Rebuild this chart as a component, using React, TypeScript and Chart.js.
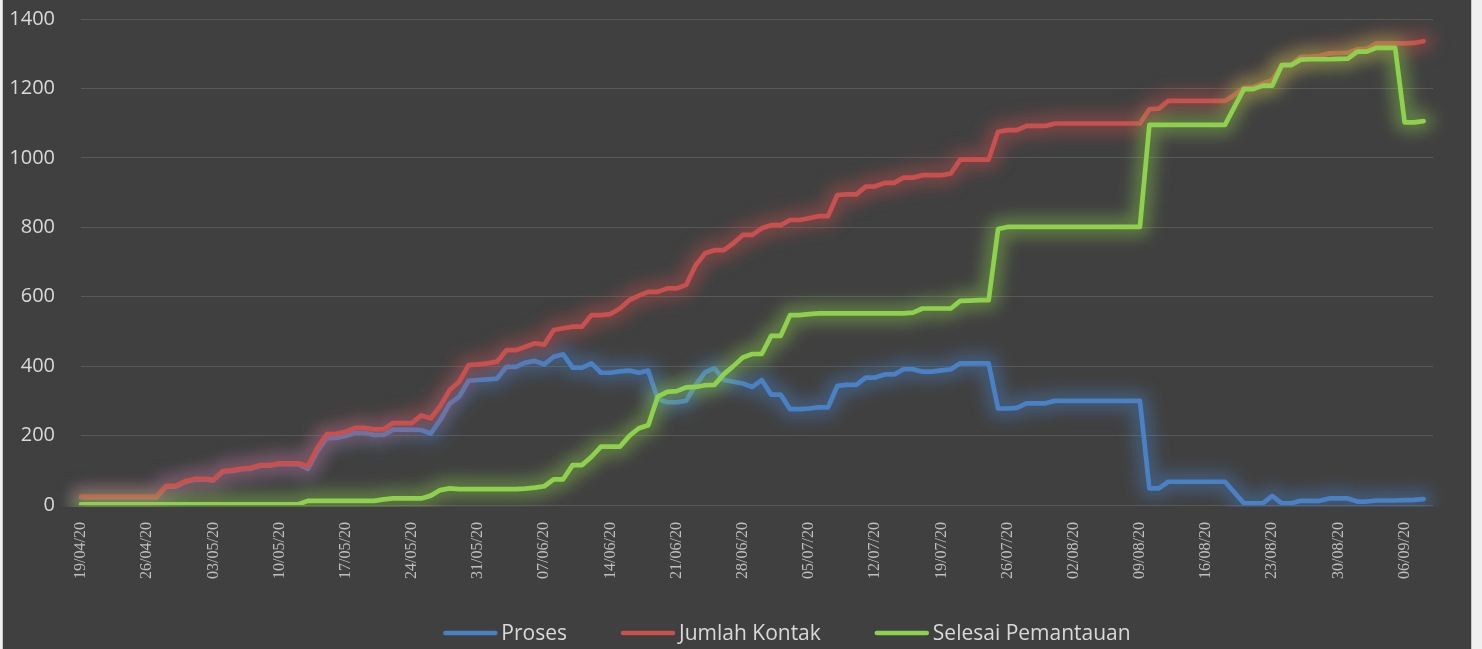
import React, { useEffect, useRef } from 'react';
import { Chart, registerables } from 'chart.js';

Chart.register(...registerables);

// ---- Data ----
const START_DAY = { y: 2020, m: 4, d: 19 }; // 19/04/20
const AXIS_DAYS = 144; // 19/04/20 .. 09/09/20
const TICK_EVERY = 7;

const dateLabels: string[] = (() => {
  const out: string[] = [];
  const base = Date.UTC(START_DAY.y, START_DAY.m - 1, START_DAY.d);
  for (let i = 0; i < AXIS_DAYS; i++) {
    const dt = new Date(base + i * 86400000);
    const dd = String(dt.getUTCDate()).padStart(2, '0');
    const mm = String(dt.getUTCMonth() + 1).padStart(2, '0');
    const yy = String(dt.getUTCFullYear()).slice(2);
    out.push(`${dd}/${mm}/${yy}`);
  }
  return out;
})();

const seriesNames = ['Proses', 'Jumlah Kontak', 'Selesai Pemantauan'];

const proses = [
  22, 22, 22, 22, 22, 22, 22, 22, 22,
  53, 53, 66, 73, 73, 71, 96, 98, 103, 105, 113, 113, 118, 118, 118, 104, 155, 192, 193, 199,
  208, 208, 202, 202, 217, 217, 217, 216, 206, 245, 292, 312, 358, 360, 362, 364, 398, 398,
  410, 415, 405, 427, 434, 396, 396, 408, 381, 381, 385, 387, 381, 387, 305, 296, 296, 300,
  345, 382, 394, 360, 355, 350, 340, 360, 318, 318, 276, 276, 278, 281, 281, 343, 346, 346,
  367, 367, 376, 376, 391, 391, 384, 384, 388, 391, 408, 408, 408, 408, 278, 278, 280, 293,
  293, 293,
  300, 300, 300, 300, 300, 300, 300, 300, 300, 300,
  48, 48,
  67, 67, 67, 67, 67, 67, 67,
  36, 5, 5, 5, 26, 5, 5, 12, 12, 12, 19, 19, 19, 10, 10, 13, 13, 13, 14, 15, 17,
];

const jumlahKontak = [
  24, 24, 24, 24, 24, 24, 24, 24, 24,
  55, 55, 68, 75, 75, 73, 98, 100, 105, 107, 115, 115, 120, 120, 120, 112, 165, 204, 205, 211,
  222, 222, 218, 218, 236, 236, 236, 258, 250, 285, 331, 355, 403, 405, 408, 413, 446, 446,
  456, 466, 462, 504, 509, 514, 514, 547, 547, 550, 566, 590, 603, 614, 614, 624, 624, 634,
  690, 725, 734, 734, 754, 778, 778, 797, 806, 806, 821, 821, 826, 832, 832, 893, 895, 895,
  917, 918, 928, 928, 943, 943, 950, 950, 950, 955, 995, 995, 995, 995, 1075, 1080, 1080, 1092,
  1092, 1092,
  1099, 1099, 1099, 1099, 1099, 1099, 1099, 1099, 1099, 1099,
  1140, 1142,
  1164, 1164, 1164, 1164, 1164, 1164, 1164,
  1181, 1202, 1204, 1214, 1224, 1267, 1269, 1291, 1292, 1294, 1301, 1302, 1303, 1313, 1314,
  1330, 1330, 1330, 1330, 1331, 1336,
];

const selesaiPemantauan = [
  2, 2, 2, 2, 2, 2, 2, 2, 2, 2, 2, 2, 2, 2, 2, 2, 2, 2, 2, 2, 2, 2, 2, 2,
  12, 12, 12, 12, 12, 12, 12, 12,
  16, 19, 19, 19, 19, 27, 43, 48,
  46, 46, 46, 46, 46, 46, 46,
  47, 50, 54, 74, 74, 115, 115, 139, 168, 168, 168, 199, 221, 230, 312, 326, 328, 339, 340,
  345, 346, 377, 400, 425, 435, 435, 487, 487, 547, 547, 550,
  552, 552, 552, 552, 552, 552, 552, 552, 552, 552,
  554,
  566, 566, 566, 566,
  588, 589, 590, 590, 795,
  801, 801, 801, 801, 801, 801, 801, 801, 801, 801, 801, 801, 801, 801, 801,
  1095, 1095, 1095, 1095, 1095, 1095, 1095, 1095, 1095,
  1147, 1198, 1198, 1208, 1208, 1267, 1267, 1283, 1284, 1284, 1284, 1285, 1286, 1306, 1306,
  1317, 1317, 1317, 1102, 1102, 1106,
];

const yTicks = { min: 0, max: 1400, step: 200 };

// ---- Styles ----
const COLORS = ['#4a80c4', '#c9504e', '#8ed14c'];
const GLOWS = ['rgba(74,128,196,0.42)', 'rgba(201,80,78,0.42)', 'rgba(142,209,76,0.42)'];

const glowPlugin = {
  id: 'glow',
  beforeDatasetDraw(chart: any, args: any) {
    const ctx = chart.ctx;
    const ds = chart.data.datasets[args.index];
    const pts = args.meta.data;
    const a = chart.chartArea;
    ctx.save();
    ctx.beginPath();
    ctx.rect(a.left - 30, a.top - 30, a.right - a.left + 60, a.bottom - a.top + 32);
    ctx.clip();
    ctx.filter = 'blur(8px)';
    ctx.strokeStyle = ds.glowColor;
    ctx.lineWidth = 20;
    ctx.lineJoin = 'round';
    ctx.lineCap = 'round';
    ctx.beginPath();
    let started = false;
    pts.forEach((p: any) => {
      if (!p || p.skip || !isFinite(p.y)) {
        started = false;
        return;
      }
      if (!started) {
        ctx.moveTo(p.x, p.y);
        started = true;
      } else {
        ctx.lineTo(p.x, p.y);
      }
    });
    ctx.stroke();
    ctx.restore();
  },
};

const legendPlugin = {
  id: 'customLegend',
  afterDraw(chart: any, _args: any, opts: any) {
    const ctx = chart.ctx;
    ctx.save();
    ctx.font = opts.font;
    const items = chart.data.datasets.map((ds: any) => ({
      label: ds.label,
      color: ds.borderColor,
      w: opts.lineLen + opts.textGap + ctx.measureText(ds.label).width,
    }));
    const total =
      items.reduce((s: number, it: any) => s + it.w, 0) + opts.itemGap * (items.length - 1);
    let x = opts.centerX - total / 2;
    const y = opts.y;
    items.forEach((it: any) => {
      ctx.strokeStyle = it.color;
      ctx.lineWidth = 4.5;
      ctx.lineCap = 'round';
      ctx.beginPath();
      ctx.moveTo(x + 2, y);
      ctx.lineTo(x + opts.lineLen - 2, y);
      ctx.stroke();
      ctx.fillStyle = opts.color;
      ctx.textBaseline = 'middle';
      ctx.textAlign = 'left';
      ctx.fillText(it.label, x + opts.lineLen + opts.textGap, y + 1);
      x += it.w + opts.itemGap;
    });
    ctx.restore();
  },
};

export default function App() {
  const canvasRef = useRef<HTMLCanvasElement | null>(null);

  useEffect(() => {
    document.body.style.margin = '0';
    const canvas = canvasRef.current;
    if (!canvas) return;
    const values = [proses, jumlahKontak, selesaiPemantauan];
    const chart = new Chart(canvas, {
      type: 'line',
      data: {
        labels: dateLabels,
        datasets: seriesNames.map((name, i) => ({
          label: name,
          data: values[i],
          borderColor: COLORS[i],
          backgroundColor: COLORS[i],
          borderWidth: 4.7,
          pointRadius: 0,
          pointHoverRadius: 0,
          tension: 0,
          fill: false,
          borderCapStyle: 'round',
          borderJoinStyle: 'round',
          order: 3 - i,
          glowColor: GLOWS[i],
        })) as any,
      },
      options: {
        animation: false,
        responsive: true,
        maintainAspectRatio: false,
        layout: { padding: { top: 19, right: 38, left: 0, bottom: 0 } },
        plugins: {
          legend: { display: false },
          tooltip: { enabled: false },
          customLegend: {
            font: '21px "Open Sans", sans-serif',
            color: '#d9d9d9',
            lineLen: 54,
            textGap: 4,
            itemGap: 54,
            centerX: 784,
            y: 633,
          },
        } as any,
        scales: {
          x: {
            type: 'category',
            offset: false,
            grid: { display: false },
            border: { display: false },
            afterFit: (scale: any) => {
              scale.height = 144;
            },
            ticks: {
              autoSkip: false,
              minRotation: 90,
              maxRotation: 90,
              padding: 9,
              color: '#bfbfbf',
              font: { family: '"Liberation Serif", "DejaVu Serif", serif', size: 16 },
              callback: (_v: any, idx: number) => (idx % TICK_EVERY === 0 ? dateLabels[idx] : ''),
            },
          },
          y: {
            min: yTicks.min,
            max: yTicks.max,
            grid: {
              color: '#595959',
              lineWidth: 1,
              drawTicks: true,
              tickLength: 26,
              tickColor: 'rgba(0,0,0,0)',
            },
            border: { display: false },
            afterFit: (scale: any) => {
              scale.width = 78;
            },
            ticks: {
              stepSize: yTicks.step,
              padding: 0,
              color: '#d9d9d9',
              font: { family: '"Open Sans", sans-serif', size: 20 },
              callback: (v: any) => String(v),
            },
          },
        },
      },
      plugins: [glowPlugin, legendPlugin],
    });
    return () => chart.destroy();
  }, []);

  return (
    <div style={{ position: 'relative', width: 1482, height: 649, background: '#f0f0f0', overflow: 'hidden' }}>
      <div
        style={{
          position: 'absolute',
          left: 2,
          top: 0,
          width: 1468,
          height: 649,
          background: '#404040',
          borderLeft: '1px solid #c8c8c8',
          borderRight: '1px solid #c8c8c8',
        }}
      >
        <div style={{ position: 'relative', width: 1468, height: 649 }}>
          <canvas ref={canvasRef} />
        </div>
      </div>
    </div>
  );
}
